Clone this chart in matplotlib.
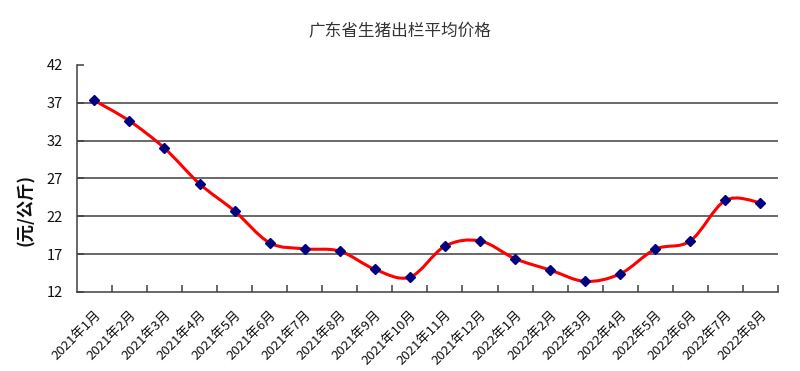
import matplotlib
matplotlib.use('Agg')
import matplotlib.pyplot as plt
import numpy as np
from matplotlib.path import Path
from matplotlib.patches import PathPatch

plt.rcParams['font.family'] = ['Noto Sans CJK SC', 'DejaVu Sans']

# data
months = ['2021年1月', '2021年2月', '2021年3月', '2021年4月', '2021年5月',
          '2021年6月', '2021年7月', '2021年8月', '2021年9月', '2021年10月',
          '2021年11月', '2021年12月', '2022年1月', '2022年2月', '2022年3月',
          '2022年4月', '2022年5月', '2022年6月', '2022年7月', '2022年8月']
prices = [37.3, 34.6, 31.0, 26.3, 22.7, 18.5, 17.7, 17.4, 15.0, 13.95,
          18.05, 18.75, 16.4, 14.9, 13.4, 14.4, 17.65, 18.75, 24.1, 23.8]
yticks = [12, 17, 22, 27, 32, 37, 42]

fig = plt.figure(figsize=(8, 3.71), dpi=100)
ax = fig.add_axes([0.096, 0.213, 0.8765, 0.612])

x = np.arange(len(prices))
y = np.array(prices)

# smoothed line (Excel style bezier through the points)
pts = np.column_stack([x, y]).astype(float)
n = len(pts)
verts = [pts[0]]
codes = [Path.MOVETO]
for i in range(n - 1):
    p_prev = pts[max(i - 1, 0)]
    p0 = pts[i]
    p1 = pts[i + 1]
    p_next = pts[min(i + 2, n - 1)]
    c1 = p0 + (p1 - p_prev) / 6
    c2 = p1 - (p_next - p0) / 6
    verts += [c1, c2, p1]
    codes += [Path.CURVE4] * 3
ax.add_patch(PathPatch(Path(verts, codes), fill=False, edgecolor='#ff0000',
                       linewidth=2.2, zorder=3, capstyle='round'))

ax.plot(x, y, linestyle='none', marker='D', markersize=4.8,
        color='#000080', zorder=4)

# horizontal grid lines (not at the top)
for t in yticks[1:-1]:
    ax.axhline(t, color='#404040', linewidth=1.1, zorder=1)

ax.set_xlim(-0.5, len(prices) - 0.5)
ax.set_ylim(12, 42)
ax.set_yticks(yticks)
ax.set_yticklabels([str(t) for t in yticks], fontsize=10.5, color='#111111')

ax.set_xticks(x)
ax.set_xticklabels(months, rotation=45, ha='right', va='top',
                   rotation_mode='anchor', fontsize=9.5, color='#111111')
ax.tick_params(axis='x', which='major', length=0, pad=12)
ax.set_xticks(np.arange(0.5, len(prices), 1.0), minor=True)
ax.tick_params(axis='x', which='minor', direction='in', length=5,
               color='#404040', width=1.1)
ax.tick_params(axis='y', direction='in', length=5, color='#404040',
               width=1.1, pad=10)

for side in ['top', 'right']:
    ax.spines[side].set_visible(False)
for side in ['left', 'bottom']:
    ax.spines[side].set_color('#404040')
    ax.spines[side].set_linewidth(1.1)

fig.text(0.5, 0.915, '广东省生猪出栏平均价格', ha='center', va='center',
         fontsize=12, color='#333333')
fig.text(0.033, 0.435, '(元/公斤)', ha='center', va='center', rotation=90,
         fontsize=12.5, fontweight='bold', color='#111111')

fig.savefig('out.png', dpi=100)
